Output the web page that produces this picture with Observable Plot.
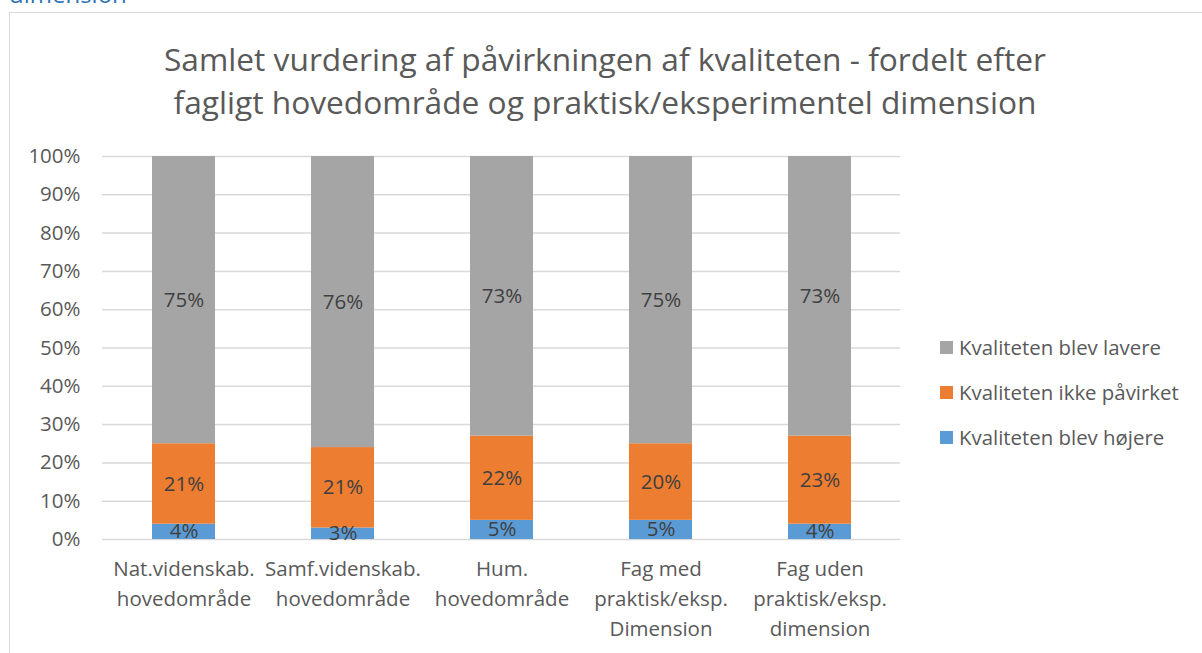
<!DOCTYPE html>
<html>
<head>
<meta charset="utf-8">
<script src="https://cdn.jsdelivr.net/npm/d3@7"></script>
<script src="https://cdn.jsdelivr.net/npm/@observablehq/plot@0.6"></script>
<style>
  html, body { margin: 0; padding: 0; background: #fff; overflow: hidden; }
  body { width: 1202px; height: 653px; position: relative; font-family: "Open Sans", Lato, sans-serif; }
  #cut { position: absolute; left: 9px; top: -18px; font-size: 24px; line-height: 24px; color: #2e74b5; }
  #frame { position: absolute; left: 9px; top: 12px; width: 1400px; height: 800px; border: 1px solid #d9d9d9; box-sizing: border-box; }
  #title { position: absolute; left: 0; width: 1210px; top: 37px; text-align: center; font-size: 31.7px; line-height: 43px; color: #595959; }
  #chart { position: absolute; left: 0; top: 0; }
  #legend { position: absolute; left: 940px; top: 333px; font-size: 20.4px; color: #595959; }
  .row { height: 45px; display: flex; align-items: flex-start; line-height: 28px; }
  .sw { width: 13px; height: 13px; margin-top: 8px; margin-right: 6px; }
</style>
</head>
<body>
<div id="cut">dimension</div>
<div id="frame"></div>
<div id="chart"></div>
<div id="title">Samlet vurdering af påvirkningen af kvaliteten - fordelt efter<br>fagligt hovedområde og praktisk/eksperimentel dimension</div>
<div id="legend"></div>
<script>
const categories = [
  "Nat.videnskab.\nhovedområde",
  "Samf.videnskab.\nhovedområde",
  "Hum.\nhovedområde",
  "Fag med\npraktisk/eksp.\nDimension",
  "Fag uden\npraktisk/eksp.\ndimension"
];
const series = ["Kvaliteten blev højere", "Kvaliteten ikke påvirket", "Kvaliteten blev lavere"];
const seriesColors = ["#5b9bd5", "#ed7d31", "#a5a5a5"];
const blevHojere = [0.04, 0.03, 0.05, 0.05, 0.04];
const ikkePavirket = [0.21, 0.21, 0.22, 0.20, 0.23];
const blevLavere = [0.75, 0.76, 0.73, 0.75, 0.73];
const yTicks = [0, 0.1, 0.2, 0.3, 0.4, 0.5, 0.6, 0.7, 0.8, 0.9, 1.0];

const valuesBySeries = [blevHojere, ikkePavirket, blevLavere];
const data = [];
series.forEach((s, si) => {
  categories.forEach((c, ci) => {
    data.push({category: c, series: s, value: valuesBySeries[si][ci]});
  });
});

const chart = Plot.plot({
  width: 1202,
  height: 653,
  marginLeft: 102,
  marginRight: 302,
  marginTop: 156,
  marginBottom: 114,
  style: {fontFamily: "'Open Sans', Lato, sans-serif", background: "transparent", overflow: "visible"},
  x: {domain: categories, paddingInner: 0.605, paddingOuter: 0.3025, label: null},
  y: {domain: [0, 1], label: null},
  color: {domain: series, range: seriesColors},
  marks: [
    Plot.ruleY(yTicks, {stroke: "#d9d9d9", strokeWidth: 1.5}),
    Plot.barY(data, Plot.stackY({x: "category", y: "value", fill: "series", order: series})),
    Plot.text(data, Plot.stackY({x: "category", y: "value", z: "series", order: series,
      text: d => d3.format(".0%")(d.value), fill: "#404040", fontSize: 20.5})),
    Plot.axisY(yTicks, {tickSize: 0, tickPadding: 22, tickFormat: d3.format(".0%"), fontSize: 20.5, fill: "#595959", label: null}),
    Plot.axisX({tickSize: 0, tickPadding: 15, fontSize: 20.5, lineHeight: 1.47, fill: "#595959", label: null})
  ]
});
document.getElementById("chart").appendChild(chart);

const legend = document.getElementById("legend");
[2, 1, 0].forEach(i => {
  const row = document.createElement("div");
  row.className = "row";
  const sw = document.createElement("div");
  sw.className = "sw";
  sw.style.background = seriesColors[i];
  const t = document.createElement("span");
  t.textContent = series[i];
  row.appendChild(sw);
  row.appendChild(t);
  legend.appendChild(row);
});
</script>
</body>
</html>
